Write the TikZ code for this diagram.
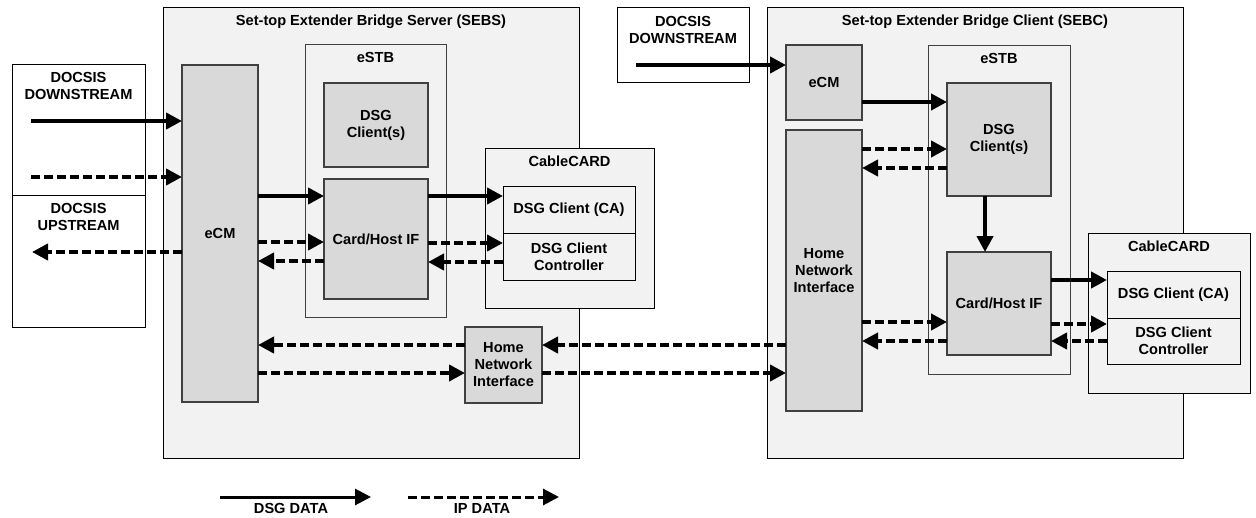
\documentclass[tikz,border=0pt]{standalone}
\usepackage{fontspec}
\setmainfont{Liberation Sans}
\usepackage{xcolor}
\usepackage{tikz}
\usetikzlibrary{arrows.meta}
\definecolor{shellGray}{HTML}{F2F2F2}
\definecolor{unitGray}{HTML}{D9D9D9}
\definecolor{edgeGray}{HTML}{404040}

\begin{document}
\begin{tikzpicture}[x=0.5pt, y=-0.5pt,
    font=\fontsize{7.3}{8.5}\selectfont\bfseries,
    shell/.style={draw=black, fill=shellGray, line width=0.5pt, anchor=north west, inner sep=0pt, outer sep=0pt, align=center},
    plain/.style={draw=black, fill=white, line width=0.5pt, anchor=north west, inner sep=0pt, outer sep=0pt},
    unit/.style={draw=edgeGray, fill=unitGray, line width=0.6pt, anchor=north west, inner sep=0pt, outer sep=0pt, align=center},
    ttl/.style={anchor=base, inner sep=0pt},
    dsg/.style={line width=2pt, -{Triangle[length=8pt, width=8pt]}},
    ipd/.style={dsg, dash pattern=on 4.5pt off 2pt}]
        \useasboundingbox (0,0) rectangle (1256,518);
        \node[plain, minimum width=66.5pt, minimum height=65.5pt] (dsBox) at (12,65) {};
        \node[plain, minimum width=66.5pt, minimum height=65.5pt] (usBox) at (12,196) {};
        \node[align=center] (dsTxt) at (78.5,85.5) {DOCSIS\\DOWNSTREAM};
        \node[align=center] (usTxt) at (78.5,216.5) {DOCSIS\\UPSTREAM};
        \node[shell, minimum width=208pt, minimum height=225pt] (sebs) at (163,8) {};
        \node[ttl] (sebsT) at ([yshift=-9pt]sebs.north) {Set-top Extender Bridge Server (SEBS)};
        \node[unit, minimum width=38pt, minimum height=168.5pt] (ecmS) at (182,65) {eCM};
        \node[shell, draw=edgeGray, minimum width=70.5pt, minimum height=136pt] (estbS) at (305,45) {};
        \node[ttl] (estbST) at ([yshift=-9pt]estbS.north) {eSTB};
        \node[unit, minimum width=52pt, minimum height=42pt] (dsgS) at (324,83) {DSG\\Client(s)};
        \node[unit, minimum width=52pt, minimum height=60pt] (chifS) at (324,179) {Card/Host IF};
        \node[shell, minimum width=84.5pt, minimum height=79.5pt] (ccS) at (485,149) {};
        \node[ttl] (ccST) at ([yshift=-9pt]ccS.north) {CableCARD};
        \node[shell, minimum width=66pt, minimum height=23pt] (caS) at (503,187) {DSG Client (CA)};
        \node[shell, minimum width=66pt, minimum height=23.5pt] (ctlS) at (503,233) {DSG Client\\Controller};
        \node[unit, minimum width=38.5pt, minimum height=38pt] (hniS) at (465,327) {Home\\Network\\Interface};
        \node[plain, minimum width=66pt, minimum height=37.5pt] (topBox) at (617,8) {};
        \node[align=center] (topTxt) at (683,29.5) {DOCSIS\\DOWNSTREAM};
        \node[shell, minimum width=208pt, minimum height=225pt] (sebc) at (767,8) {};
        \node[ttl] (sebcT) at ([yshift=-9pt]sebc.north) {Set-top Extender Bridge Client (SEBC)};
        \node[unit, minimum width=38pt, minimum height=37.5pt] (ecmC) at (786,45) {eCM};
        \node[unit, minimum width=38pt, minimum height=140.5pt] (hniC) at (786,130) {Home\\Network\\Interface};
        \node[shell, draw=edgeGray, minimum width=71pt, minimum height=164pt] (estbC) at (928,46) {};
        \node[ttl] (estbCT) at ([yshift=-9pt]estbC.north) {eSTB};
        \node[unit, minimum width=52pt, minimum height=56.5pt] (dsgC) at (947,83) {DSG\\Client(s)};
        \node[unit, minimum width=52pt, minimum height=51.5pt] (chifC) at (947,252) {Card/Host IF};
        \node[shell, minimum width=81pt, minimum height=80pt] (ccC) at (1088,233) {};
        \node[ttl] (ccCT) at ([yshift=-9pt]ccC.north) {CableCARD};
        \node[shell, minimum width=66.5pt, minimum height=23.5pt] (caC) at (1107,271) {DSG Client (CA)};
        \node[shell, minimum width=66.5pt, minimum height=23pt] (ctlC) at (1107,318) {DSG Client\\Controller};
        \coordinate (dsIn) at (31,121);
        \coordinate (ipIn) at (31,177);
        \coordinate (ipOut) at (32,252);
        \coordinate (dsInC) at (636,65);
        \draw[dsg] (dsIn) -- (ecmS.west |- dsIn);
        \draw[ipd] (ipIn) -- (ecmS.west |- ipIn);
        \draw[ipd] (ecmS.west |- ipOut) -- (ipOut);
        \draw[dsg] (ecmS.east |- 0,196) -- (chifS.west |- 0,196);
        \draw[ipd] (ecmS.east |- 0,242) -- (chifS.west |- 0,242);
        \draw[ipd] (chifS.west |- 0,261) -- (ecmS.east |- 0,261);
        \draw[dsg] (chifS.east |- 0,196) -- (caS.west |- 0,196);
        \draw[ipd] (chifS.east |- 0,243) -- (ctlS.west |- 0,243);
        \draw[ipd] (ctlS.west |- 0,262) -- (chifS.east |- 0,262);
        \draw[ipd] (hniS.west |- 0,345) -- (ecmS.east |- 0,345);
        \draw[ipd] (ecmS.east |- 0,373) -- (hniS.west |- 0,373);
        \draw[ipd] (hniC.west |- 0,345) -- (hniS.east |- 0,345);
        \draw[ipd] (hniS.east |- 0,373) -- (hniC.west |- 0,373);
        \draw[dsg] (dsInC) -- (ecmC.west |- dsInC);
        \draw[dsg] (ecmC.east |- 0,102) -- (dsgC.west |- 0,102);
        \draw[ipd] (hniC.east |- 0,149) -- (dsgC.west |- 0,149);
        \draw[ipd] (dsgC.west |- 0,168) -- (hniC.east |- 0,168);
        \draw[dsg] (dsgC.south -| 985,0) -- (chifC.north -| 985,0);
        \draw[ipd] (hniC.east |- 0,322) -- (chifC.west |- 0,322);
        \draw[ipd] (chifC.west |- 0,341) -- (hniC.east |- 0,341);
        \draw[dsg] (chifC.east |- 0,280) -- (caC.west |- 0,280);
        \draw[ipd] (chifC.east |- 0,324) -- (ctlC.west |- 0,324);
        \draw[ipd] (ctlC.west |- 0,341) -- (chifC.east |- 0,341);
        \coordinate (keyDsgA) at (220,497);
        \coordinate (keyDsgB) at (371,497);
        \coordinate (keyIpA) at (408,497);
        \coordinate (keyIpB) at (559,497);
        \draw[dsg, line width=1.5pt] (keyDsgA) -- (keyDsgB);
        \draw[ipd, line width=1.5pt] (keyIpA) -- (keyIpB);
        \node (keyDsg) at (291,508) {DSG DATA};
        \node (keyIp) at (482,508) {IP DATA};
      \end{tikzpicture}
\end{document}
